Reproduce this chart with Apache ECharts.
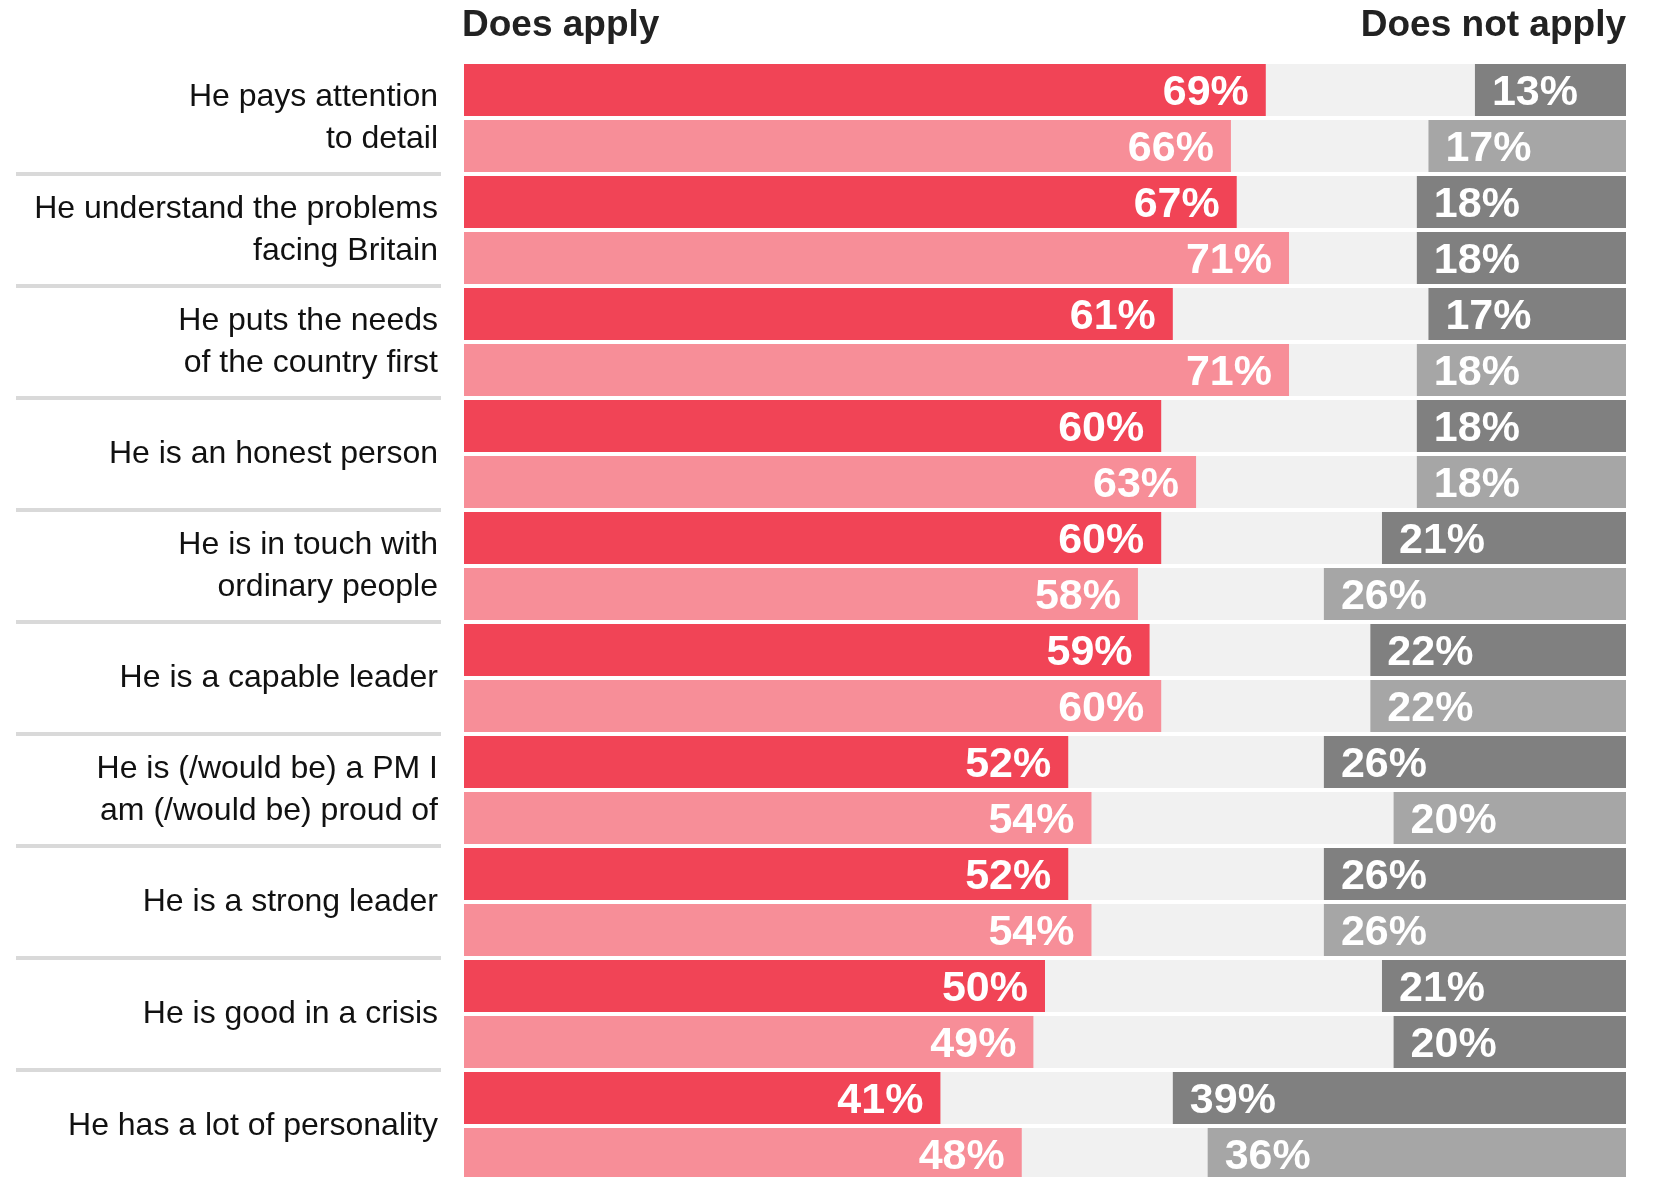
<!DOCTYPE html>
<html>
<head>
<meta charset="utf-8">
<script src="https://cdn.jsdelivr.net/npm/echarts@6/dist/echarts.min.js"></script>
<style>
  html, body { margin: 0; padding: 0; background: #fff; }
  #chart { width: 1653px; height: 1177px; }
</style>
</head>
<body>
<div id="chart"></div>
<script>
// statements shown on the left
var statements = [
  'He pays attention\nto detail',
  'He understand the problems\nfacing Britain',
  'He puts the needs\nof the country first',
  'He is an honest person',
  'He is in touch with\nordinary people',
  'He is a capable leader',
  'He is (/would be) a PM I\nam (/would be) proud of',
  'He is a strong leader',
  'He is good in a crisis',
  'He has a lot of personality'
]
// first row of each pair (darker)
var applyFirst = [69, 66.5, 61, 60, 60, 59, 52, 52, 50, 41]
var notApplyFirst = [13, 18, 17, 18, 21, 22, 26, 26, 21, 39]
// second row of each pair (lighter)
var applySecond = [66, 71, 71, 63, 58, 60, 54, 54, 49, 48]
var notApplySecond = [17, 18, 18, 18, 26, 22, 20, 26, 20, 36]

var RED = '#f14456', PINK = '#f78e98'
var GREY = '#808080', LIGHTGREY = '#a6a6a6'
// second rows that are drawn in the darker grey in the original
var darkSecondRows = [1, 8]

var rows = [], applyData = [], gapData = [], notData = []
statements.forEach(function (s, i) {
  rows.push(i + 'a', i + 'b')
  applyData.push({ value: applyFirst[i], itemStyle: { color: RED } })
  applyData.push({ value: applySecond[i], itemStyle: { color: PINK } })
  gapData.push(100 - applyFirst[i] - notApplyFirst[i])
  gapData.push(100 - applySecond[i] - notApplySecond[i])
  notData.push({ value: notApplyFirst[i], itemStyle: { color: GREY } })
  notData.push({ value: notApplySecond[i], itemStyle: { color: darkSecondRows.indexOf(i) >= 0 ? GREY : LIGHTGREY } })
})

var valueLabel = {
  show: true,
  color: '#fff',
  fontFamily: "'Liberation Sans', Arial, sans-serif",
  fontWeight: 'bold',
  fontSize: 43,
  distance: 17,
  offset: [0, 3],
  formatter: function (p) { return Math.round(p.value) + '%' }
}
var headStyle = { fontFamily: "'Liberation Sans', Arial, sans-serif", fontSize: 37, fontWeight: 'bold', color: '#222' }

var chart = echarts.init(document.getElementById('chart'))
chart.setOption({
  animation: false,
  title: [
    { text: 'Does apply', left: 462, top: 7, padding: 0, textStyle: headStyle },
    { text: 'Does not apply', right: 27, top: 7, padding: 0, textStyle: headStyle }
  ],
  grid: [
    { left: 464, right: 27, top: 62, height: 1120, outerBoundsMode: 'none' },
    { left: 16, right: 1212, top: 62, height: 1120, outerBoundsMode: 'none' }
  ],
  xAxis: [
    { type: 'value', min: 0, max: 100, show: false, gridIndex: 0 },
    { type: 'value', min: 0, max: 100, show: false, gridIndex: 1 }
  ],
  yAxis: [
    { type: 'category', data: rows, inverse: true, gridIndex: 0,
      axisLine: { show: false }, axisTick: { show: false }, axisLabel: { show: false } },
    { type: 'category', data: statements, inverse: true, gridIndex: 1, position: 'right',
      axisLine: { show: false }, axisTick: { show: false },
      axisLabel: { inside: true, margin: 3, fontSize: 32, lineHeight: 42, color: '#111',
        padding: [6, 0, 0, 0],
        fontFamily: "'Liberation Sans', Arial, sans-serif", align: 'right' },
      splitLine: { show: true, interval: function (i) { return i !== 0 },
        lineStyle: { color: '#d9d9d9', width: 4 } } }
  ],
  series: [
    { type: 'bar', stack: 'all', data: applyData, barCategoryGap: '7%',
      showBackground: true, backgroundStyle: { color: '#f1f1f1' },
      label: Object.assign({ position: 'insideRight' }, valueLabel) },
    { type: 'bar', stack: 'all', data: gapData, silent: true,
      itemStyle: { color: 'rgba(0,0,0,0)' } },
    { type: 'bar', stack: 'all', data: notData,
      label: Object.assign({ position: 'insideLeft' }, valueLabel) }
  ]
})
</script>
</body>
</html>
